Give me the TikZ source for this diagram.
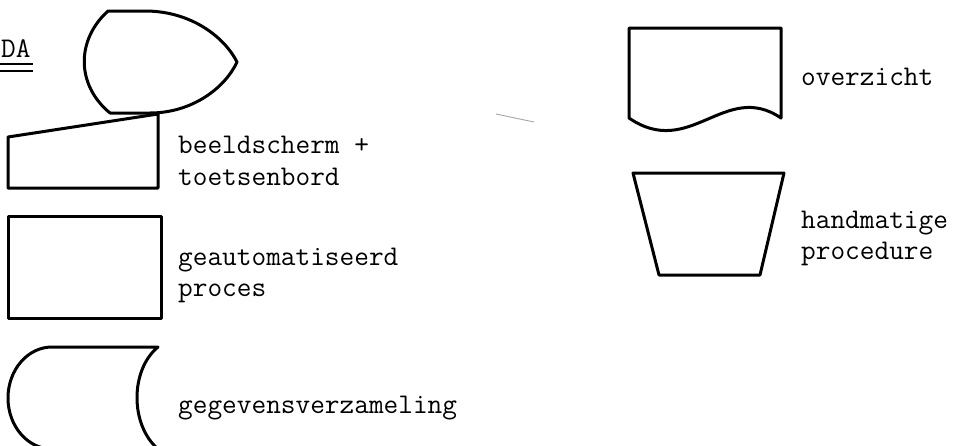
\documentclass[tikz,border=0pt]{standalone}
\usepackage{fontspec}
\begin{document}
\begin{tikzpicture}[x=1pt,y=-1pt,
  symbol/.style={draw=black, line width=3pt, line join=round},
  caption/.style={anchor=base west, inner sep=0pt, font=\ttfamily\fontsize{28.5}{31}\selectfont},
  rule/.style={draw=black, line width=1.8pt}]
\useasboundingbox (0,0) rectangle (966,445);

% heading with double underline
\node[caption] (head) at (1,57) {DA};
\draw[rule] (0,64) -- (33,64);
\draw[rule] (0,71) -- (33,71);

% display
\draw[symbol] (108,11) -- (145,11) .. controls (192,11) and (225,38) .. (237,62)
  .. controls (225,88) and (192,113) .. (150,113) -- (110,113)
  .. controls (76,85) and (76,40) .. cycle;

% keyboard (manual input)
\draw[symbol] (8,137) -- (158,114) -- (158,188) -- (8,188) -- cycle;
\node[caption] (kb1) at (178,153) {beeldscherm +};
\node[caption] (kb2) at (178,185) {toetsenbord};

% automated process
\draw[symbol] (8,216) rectangle (161,318);
\node[caption] (pr1) at (178,265) {geautomatiseerd};
\node[caption] (pr2) at (178,296) {proces};

% stored data
\draw[symbol] (158,347) -- (52,347)
  arc[start angle=-90, end angle=-270, x radius=44, y radius=51]
  -- (158,449) .. controls (130,425) and (130,370) .. cycle;
\node[caption] (ds) at (178,413) {gegevensverzameling};

% document
\draw[symbol] (629,118) -- (629,28) -- (781,28) -- (781,118)
  .. controls (725,80) and (690,160) .. cycle;
\node[caption] (doc) at (801,85) {overzicht};

% manual operation
\draw[symbol] (633,173) -- (784,173) -- (760,275) -- (659,275) -- cycle;
\node[caption] (man1) at (801,228) {handmatige};
\node[caption] (man2) at (801,259) {procedure};

% faint stroke
\draw[gray!70, line width=0.9pt] (496,114) -- (534,122);
\end{tikzpicture}
\end{document}
